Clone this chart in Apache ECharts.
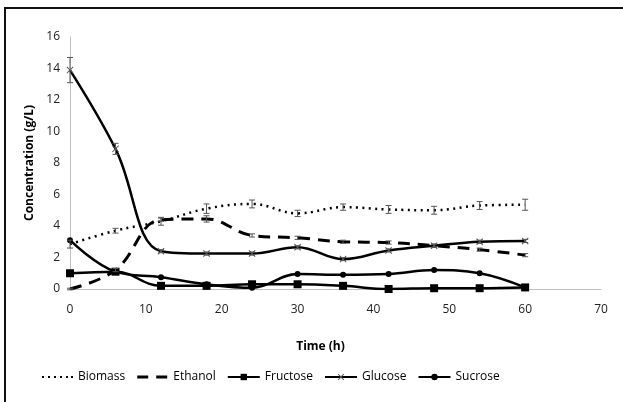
<!DOCTYPE html>
<html><head><meta charset="utf-8">
<script src="https://cdn.jsdelivr.net/npm/echarts@6/dist/echarts.min.js"></script>
<style>html,body{margin:0;padding:0;background:#fff;}#c{width:623px;height:402px;}</style>
</head><body><div id="c"></div>
<script>
var time = [0, 6, 12, 18, 24, 30, 36, 42, 48, 54, 60];
var biomass = [2.85, 3.7, 4.3, 5.1, 5.4, 4.8, 5.2, 5.05, 5.0, 5.3, 5.35];
var biomassErr = [0.25, 0.15, 0.25, 0.3, 0.25, 0.2, 0.2, 0.25, 0.25, 0.25, 0.35];
var ethanol = [0.0, 1.2, 4.4, 4.45, 3.4, 3.25, 3.0, 2.95, 2.75, 2.5, 2.15];
var ethanolErr = [0.05, 0.1, 0.1, 0.2, 0.1, 0.1, 0.1, 0.1, 0.1, 0.1, 0.1];
var fructose = [1.0, 1.1, 0.2, 0.2, 0.3, 0.3, 0.2, 0.0, 0.05, 0.05, 0.1];
var glucose = [13.9, 8.9, 2.4, 2.25, 2.25, 2.65, 1.9, 2.45, 2.75, 3.0, 3.05];
var glucoseErr = [0.8, 0.35, 0.1, 0.1, 0.1, 0.1, 0.1, 0.1, 0.1, 0.1, 0.1];
var sucrose = [3.1, 1.1, 0.75, 0.3, 0.08, 0.95, 0.9, 0.95, 1.2, 1.0, 0.1];
var xTicks = {min: 0, max: 70, interval: 10};
var yTicks = {min: 0, max: 16, interval: 2};

function pairs(v){ return time.map(function(t,i){ return [t, v[i]]; }); }
function errData(v, e){ return time.map(function(t,i){ return [t, v[i]-e[i], v[i]+e[i]]; }); }
function errSeries(v, e){
  return {
    type: 'custom', silent: true, z: 5,
    data: errData(v, e),
    renderItem: function(params, api){
      var lo = api.coord([api.value(0), api.value(1)]);
      var hi = api.coord([api.value(0), api.value(2)]);
      var w = 3;
      return {type: 'group', children: [
        {type:'line', shape:{x1:lo[0],y1:lo[1],x2:hi[0],y2:hi[1]}, style:{stroke:'#555',lineWidth:1}},
        {type:'line', shape:{x1:lo[0]-w,y1:lo[1],x2:lo[0]+w,y2:lo[1]}, style:{stroke:'#555',lineWidth:1}},
        {type:'line', shape:{x1:hi[0]-w,y1:hi[1],x2:hi[0]+w,y2:hi[1]}, style:{stroke:'#555',lineWidth:1}}
      ]};
    }
  };
}
var crossPath = 'path://M0,1 L1,0 L5,4 L9,0 L10,1 L6,5 L10,9 L9,10 L5,6 L1,10 L0,9 L4,5Z';
var dotIcon = 'path://M0,0Z M32,8Z ' + [1,7,13,19,25,30].map(function(x){return 'M'+x+',3 h2 v2 h-2 Z';}).join(' ');
var dashIcon = 'path://M0,0Z M32,8Z M1,2.5 h11 v3 h-11 Z M20,2.5 h11 v3 h-11 Z';
var font = 'Open Sans';
var chart = echarts.init(document.getElementById('c'));
chart.setOption({
  animation: false,
  textStyle: {fontFamily: font},
  graphic: [{type:'rect', shape:{x:5,y:8,width:700,height:500}, style:{fill:null, stroke:'#111', lineWidth:2}, z:-1}],
  grid: {left: 70, right: 22, top: 37, bottom: 113},
  legend: {
    top: 366, left: 36, itemWidth: 32, itemHeight: 8, itemGap: 11,
    textStyle: {fontSize: 12, color: '#000', fontFamily: font},
    data: [{name:'Biomass', icon: dotIcon}, {name:'Ethanol', icon: dashIcon}, 'Fructose','Glucose','Sucrose']
  },
  xAxis: {
    type: 'value', min: xTicks.min, max: xTicks.max, interval: xTicks.interval,
    name: 'Time (h)', nameLocation: 'middle', nameGap: 52,
    nameTextStyle: {fontWeight: 'bold', fontSize: 12, color: '#000', padding: [0, 30, 0, 0]},
    axisLine: {lineStyle: {color: '#bfbfbf'}}, axisTick: {show: false},
    axisLabel: {color: '#222', fontSize: 12, margin: 15}, splitLine: {show: false}
  },
  yAxis: {
    type: 'value', min: yTicks.min, max: yTicks.max, interval: yTicks.interval,
    name: 'Concentration (g/L)', nameLocation: 'middle', nameGap: 34, nameRotate: 90,
    nameTextStyle: {fontWeight: 'bold', fontSize: 12, color: '#000'},
    axisLine: {show: true, lineStyle: {color: '#bfbfbf'}}, axisTick: {show: false},
    axisLabel: {color: '#222', fontSize: 12, margin: 10}, splitLine: {show: false}
  },
  series: [
    {name:'Biomass', type:'line', smooth:0.4, data: pairs(biomass), symbol:'none',
     itemStyle:{color:'#000'}, lineStyle:{color:'#000', width:2.5, type:[2,4.5]}},
    {name:'Ethanol', type:'line', smooth:0.4, data: pairs(ethanol), symbol:'none',
     itemStyle:{color:'#000'}, lineStyle:{color:'#000', width:3, type:[12,8]}},
    {name:'Fructose', type:'line', smooth:0.4, data: pairs(fructose), symbol:'rect', symbolSize:8,
     itemStyle:{color:'#000'}, lineStyle:{color:'#000', width:2.5}},
    {name:'Glucose', type:'line', smooth:0.4, data: pairs(glucose), symbol:crossPath, symbolSize:7,
     itemStyle:{color:'#555'}, lineStyle:{color:'#000', width:2.5}},
    {name:'Sucrose', type:'line', smooth:0.4, data: pairs(sucrose), symbol:'circle', symbolSize:6,
     itemStyle:{color:'#000'}, lineStyle:{color:'#000', width:2.5}},
    errSeries(biomass, biomassErr),
    errSeries(ethanol, ethanolErr),
    errSeries(glucose, glucoseErr)
  ]
});
</script></body></html>
